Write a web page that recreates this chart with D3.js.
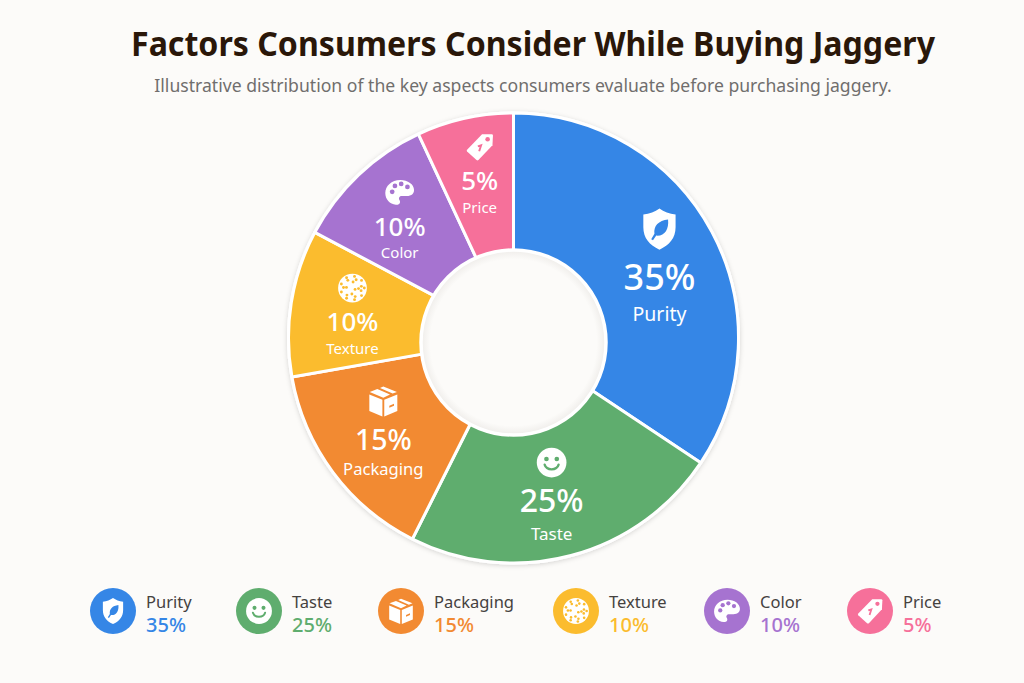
<!DOCTYPE html>
<html>
<head>
<meta charset="utf-8">
<script src="https://cdn.jsdelivr.net/npm/d3@7"></script>
<style>
    html, body { margin: 0; padding: 0; background: #fcfbf9; }
    svg { display: block; }
    text { font-family: "Noto Sans", "Open Sans", sans-serif; }
</style>
</head>
<body>
<div id="chart"></div>
<script>
var categories = ["Purity", "Taste", "Packaging", "Texture", "Color", "Price"];
var percents = [35, 25, 15, 10, 10, 5];
// the slices in the picture are not cut to their printed percent, these are the sweeps read off it (degrees)
var sweeps = [123.7, 83, 53.3, 38, 37, 25];
var colors = ["#3586e6", "#5fad6e", "#f28a32", "#fbbc2e", "#a673d0", "#f6709a"];
var icons = ["shield", "smile", "box", "texture", "palette", "tag"];

var width = 1024, height = 683,
    cx = 513.5, cy = 338,
    outerR = 225, innerR = 80, holeR = 92.5, holeDy = 4.5, labelR = 161,
    labelNudge = [[4, 15], [-3, 7], [-1, 6], [-2, 9], [-3, 5], [1, 0]],
    legendX = [113, 259, 401, 576, 727, 870],
    legendY = 611;

var svg = d3.select("#chart").append("svg").attr("width", width).attr("height", height);

var defs = svg.append("defs");
var shadow = defs.append("filter").attr("id", "soft")
    .attr("x", "-10%").attr("y", "-10%").attr("width", "120%").attr("height", "120%");
shadow.append("feDropShadow").attr("dx", 0).attr("dy", 1).attr("stdDeviation", 2.5)
    .attr("flood-color", "#000").attr("flood-opacity", 0.16);

var holeFill = defs.append("radialGradient").attr("id", "hole");
holeFill.append("stop").attr("offset", "0.9").attr("stop-color", "#fcfbf9");
holeFill.append("stop").attr("offset", "1").attr("stop-color", "#efedea");

svg.append("rect").attr("width", width).attr("height", height).attr("fill", "#fcfbf9");

svg.append("text")
    .attr("x", 533).attr("y", 56)
    .attr("text-anchor", "middle")
    .attr("textLength", 804).attr("lengthAdjust", "spacingAndGlyphs")
    .attr("font-size", 33.5).attr("font-weight", 700).attr("fill", "#2a1709")
    .text("Factors Consumers Consider While Buying Jaggery");

svg.append("text")
    .attr("x", 523).attr("y", 92)
    .attr("text-anchor", "middle")
    .attr("font-size", 17.6).attr("fill", "#706e6d")
    .text("Illustrative distribution of the key aspects consumers evaluate before purchasing jaggery.");

var pie = d3.pie().sort(null).value(function(d) { return d; })
    .startAngle(0).endAngle(2 * Math.PI);
var arc = d3.arc().innerRadius(innerR).outerRadius(outerR);
var labelArc = d3.arc().innerRadius(labelR).outerRadius(labelR);
var arcs = pie(sweeps);

// label sizes grow with the slice
var pctSize = d3.scaleLinear().domain([5, 10, 15, 25, 35]).range([26, 26, 28.5, 32, 36]);
var nameSize = d3.scaleLinear().domain([5, 10, 15, 25, 35]).range([15, 15, 16.6, 17, 19.5]);
var iconSize = d3.scaleLinear().domain([5, 10, 15, 25, 35]).range([29, 30, 32, 31, 43]);
var iconGap = d3.scaleLinear().domain([5, 10, 15, 25, 35]).range([1.3, 1.3, 1.37, 1.19, 1.33]);

var g = svg.append("g").attr("transform", "translate(" + cx + "," + cy + ")");

g.append("circle").attr("r", outerR + 1.5).attr("fill", "#fff").attr("filter", "url(#soft)");

g.selectAll(".slice")
    .data(arcs)
    .enter()
    .append("path")
    .attr("class", "slice")
    .attr("d", arc)
    .attr("fill", function(d, i) { return colors[i]; })
    .attr("stroke", "#fff")
    .attr("stroke-width", 3)
    .attr("stroke-linejoin", "round");

// the hole sits a little below the centre of the ring in the picture
g.append("circle").attr("cy", holeDy).attr("r", holeR).attr("fill", "url(#hole)")
    .attr("stroke", "#fff").attr("stroke-width", 3.5);

var labels = g.selectAll(".label")
    .data(arcs)
    .enter()
    .append("g")
    .attr("class", "label")
    .attr("transform", function(d, i) {
        var c = labelArc.centroid(d);
        return "translate(" + (c[0] + labelNudge[i][0]) + "," + (c[1] + labelNudge[i][1]) + ")";
    });

labels.each(function(d, i) {
    var l = d3.select(this), p = percents[i], s = pctSize(p);
    drawIcon(l.append("g").attr("transform", "translate(0," + (-s * iconGap(p)) + ")"),
        icons[i], iconSize(p), "#fff", colors[i]);
    l.append("text")
        .attr("text-anchor", "middle")
        .attr("y", s * 0.36)
        .attr("font-size", s).attr("font-weight", 500).attr("fill", "#fff")
        .text(p + "%");
    l.append("text")
        .attr("text-anchor", "middle")
        .attr("y", s * 1.22)
        .attr("font-size", nameSize(p)).attr("fill", "#fff")
        .text(categories[i]);
});

var legend = svg.selectAll(".legend")
    .data(categories)
    .enter()
    .append("g")
    .attr("class", "legend")
    .attr("transform", function(d, i) { return "translate(" + legendX[i] + "," + legendY + ")"; });

legend.append("circle").attr("r", 23).attr("fill", function(d, i) { return colors[i]; });

legend.each(function(d, i) {
    drawIcon(d3.select(this).append("g"), icons[i], 27, "#fff", colors[i]);
});

legend.append("text")
    .attr("x", 33).attr("y", -3)
    .attr("font-size", 16.5).attr("fill", "#45423f")
    .text(function(d) { return d; });

legend.append("text")
    .attr("x", 33).attr("y", 21)
    .attr("font-size", 20).attr("font-weight", 500)
    .attr("fill", function(d, i) { return colors[i]; })
    .text(function(d, i) { return percents[i] + "%"; });

// icons are drawn on a 24x24 box centred on the group
function drawIcon(sel, name, size, fg, bg) {
    var k = size / 24,
        ic = sel.append("g").attr("transform", "scale(" + k + ") translate(-12,-12)");

    function p(d, fill) { return ic.append("path").attr("d", d).attr("fill", fill || fg); }
    function dot(x, y, r, fill) {
        return ic.append("circle").attr("cx", x).attr("cy", y).attr("r", r).attr("fill", fill || bg);
    }

    if (name == "shield") {
        p("M12 .5 C14.5 2.3 17.5 3.4 21 3.8 V11 C21 17 17.5 21 12 23.5 C6.5 21 3 17 3 11 V3.8 C6.5 3.4 9.5 2.3 12 .5Z");
        p("M16.8 6.6 C11.5 7.2 8.6 10.2 9.2 14.6 L7.4 17.6 L8.4 18.2 L10.2 15.6 C14.8 16 17.4 12.2 16.8 6.6Z", bg);
    } else if (name == "smile") {
        dot(12, 12, 11.5, fg);
        dot(8, 9.2, 1.8);
        dot(16, 9.2, 1.8);
        ic.append("path").attr("d", "M6.6 13.6 C8 18.4 16 18.4 17.4 13.6")
            .attr("fill", "none").attr("stroke", bg).attr("stroke-width", 1.8).attr("stroke-linecap", "round");
    } else if (name == "box") {
        p("M1.5 7 L11.3 11 V23.5 L1.5 19.5Z");
        p("M22.5 7 L12.7 11 V23.5 L22.5 19.5Z");
        p("M1.8 5.2 L7.5 3 L17 7 L12 9.5Z");
        p("M9.5 2.2 L12 1 L22.2 5.2 L19 6.4Z");
        p("M16.5 15.5 L20 14 V15.6 L16.5 17Z", bg);
    } else if (name == "texture") {
        dot(12, 12, 11.5, fg);
        [[10.5, 9, 0], [8, 6.5, .3], [5.4, 4, .1], [2.6, 1, .5]].forEach(function(r) {
            for (var j = 0; j < r[1]; j++) {
                var a = r[2] + j * 2 * Math.PI / r[1];
                dot(12 + r[0] * 0.9 * Math.cos(a), 12 + r[0] * 0.9 * Math.sin(a), 1.15);
            }
        });
    } else if (name == "palette") {
        p("M12.5 2 C5.5 2 .5 6.8 .5 12.5 C.5 17.5 4 21.5 9 21.8 C12.5 22 12.8 19.6 11.8 18 C10.8 16.4 12 14.6 14 14.8 C18 15.2 23.5 15 23.5 10 C23.5 5.5 18.5 2 12.5 2Z");
        dot(6, 11.5, 1.9);
        dot(8.2, 6.8, 1.9);
        dot(13.2, 5.2, 1.9);
        dot(18.2, 7.6, 1.9);
    } else if (name == "tag") {
        p("M14 1.5 L22 1.5 Q23 1.5 23 2.5 L22.6 10.5 L11 22.8 Q10.2 23.4 9.4 22.8 L1.6 15.8 Q.9 15 1.6 14.2Z");
        dot(18.6, 5.6, 1.9);
        ic.append("path").attr("d", "M10.5 11.5 L13.2 10.6 L11.6 15.5")
            .attr("fill", "none").attr("stroke", bg).attr("stroke-width", 1.6);
    }
}
</script>
</body>
</html>
